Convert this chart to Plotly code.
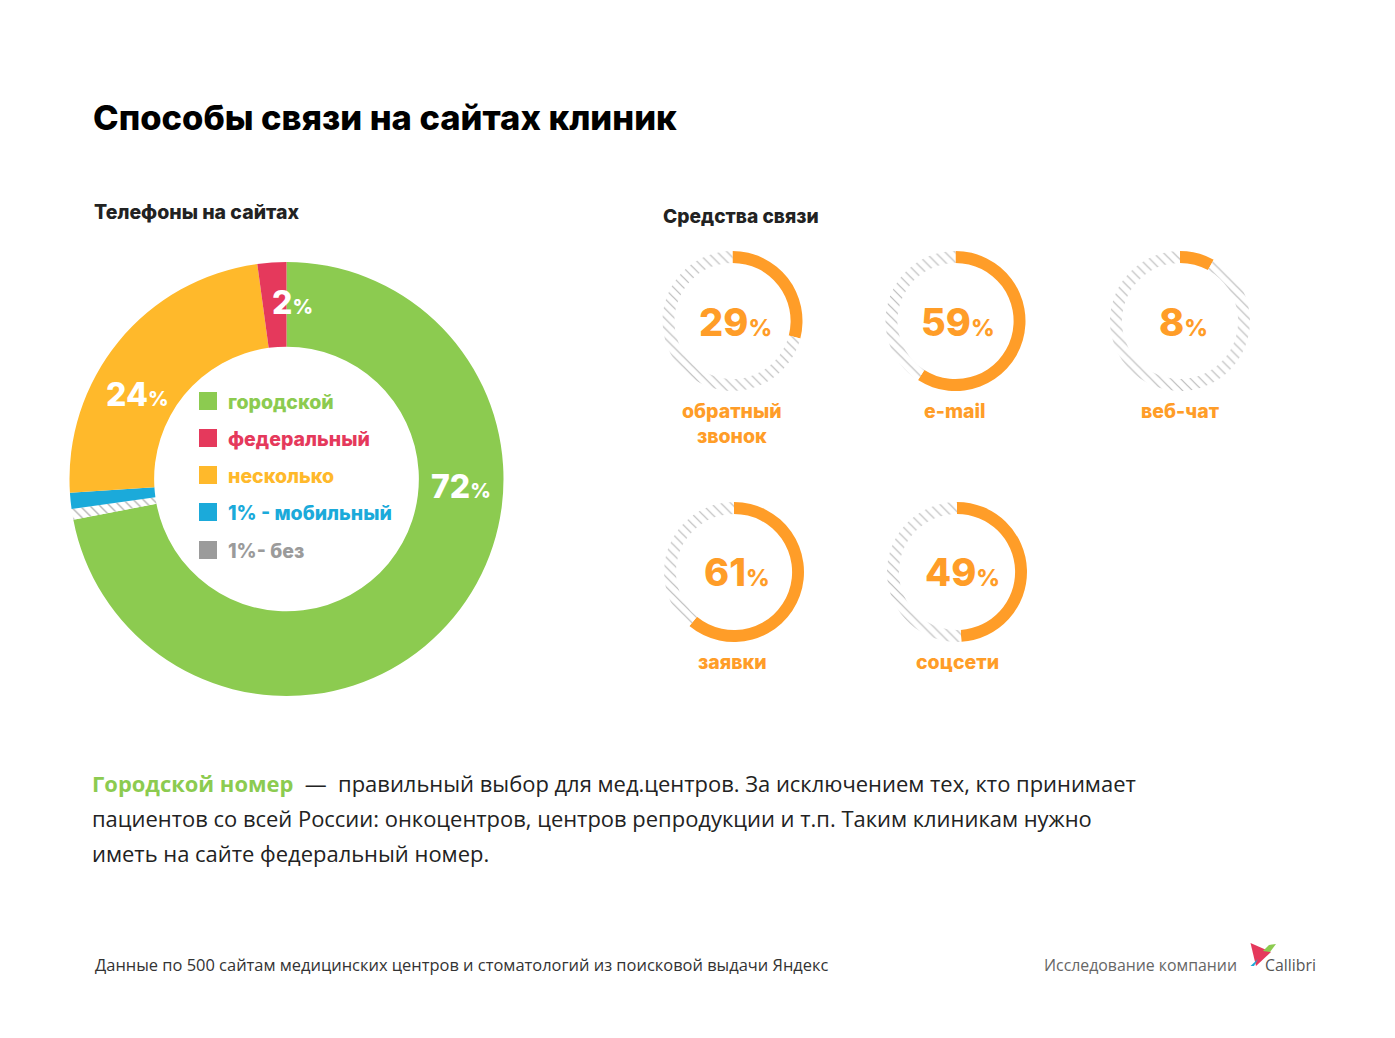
import plotly.graph_objects as go

W, H = 1395, 1038
ORANGE = "#FF9D28"
GREEN = "#8CCB50"; RED = "#E5395C"; YELLOW = "#FFB92B"; BLUE = "#1BAADA"; GREY = "#9B9B9B"

# Main donut, clockwise from 12 o'clock (slice sizes as measured on the picture)
phone_labels = ["городской", "без", "мобильный", "несколько", "федеральный"]
phone_values = [72, 0.8, 1.2, 23.85, 2.15]
phone_captions = [72, 24, 2]

# Small rings
channel_labels = ["обратный<br>звонок", "e-mail", "веб-чат", "заявки", "соцсети"]
channel_values = [29, 59, 8, 61, 49]

legend_labels = ["городской", "федеральный", "несколько", "1% - мобильный", "1%- без"]

HEAD = "Inter"
BODY = "Open Sans"

def px(x): return x / W
def py(y): return 1 - y / H

def dom(cx, cy, r):
    return dict(x=[px(cx - r), px(cx + r)], y=[py(cy + r), py(cy - r)])

fig = go.Figure()
fig.add_trace(go.Pie(
    labels=phone_labels, values=phone_values, sort=False, direction="clockwise", rotation=0,
    hole=0.61, domain=dom(286.5, 479, 217), textinfo="none", hoverinfo="label+percent", showlegend=False,
    marker=dict(colors=[GREEN, "white", BLUE, YELLOW, RED], line=dict(width=0),
                pattern=dict(shape=["", "\\", "", "", ""], fgcolor="#B4B4B4", bgcolor="white", size=7, solidity=0.2)),
))

ring_pos = [(732.5, 321), (955.5, 321), (1180, 321), (734, 572), (957, 572)]
for lab, v, (cx, cy) in zip(channel_labels, channel_values, ring_pos):
    fig.add_trace(go.Pie(
        labels=[lab, "остальные"], values=[v, 100 - v], sort=False, direction="clockwise", rotation=0,
        hole=0.83, domain=dom(cx, cy, 70), textinfo="none", hoverinfo="label+percent", showlegend=False,
        marker=dict(colors=[ORANGE, "white"], line=dict(width=0),
                    pattern=dict(shape=["", "\\"], fgcolor="#BBBBBB", bgcolor="white", size=7, solidity=0.17)),
    ))

ann = []
def text(x, y, s, size, color, font=HEAD, weight=700, anchor="left"):
    ann.append(dict(x=px(x), y=py(y), xref="paper", yref="paper", text=s, showarrow=False,
                    xanchor=anchor, yanchor="middle", align=anchor,
                    font=dict(family=font, size=size, color=color, weight=weight)))

def pct(v, small):
    return f"{v}<span style='font-size:{small}px'>%</span>"

text(91, 117, "Способы связи на сайтах клиник", 34.5, "black", weight=800)
text(92, 212, "Телефоны на сайтах", 19.5, "#222222", weight=800)
text(661, 216, "Средства связи", 19.2, "#222222", weight=800)

text(461, 486, pct(phone_captions[0], 20), 32, "white", weight=800, anchor="center")
text(137, 394, pct(phone_captions[1], 20), 32, "white", weight=800, anchor="center")
text(292, 302, pct(phone_captions[2], 20), 32, "white", weight=800, anchor="center")

shapes = []
leg_y = [401, 438, 475, 512, 550]
leg_c = [GREEN, RED, YELLOW, BLUE, GREY]
for lab, y, c in zip(legend_labels, leg_y, leg_c):
    shapes.append(dict(type="rect", xref="paper", yref="paper", x0=px(199), x1=px(217), y0=py(y + 9), y1=py(y - 9),
                       fillcolor=c, line=dict(width=0)))
    text(226, y + 0.5, lab, 19.5, c, weight=800)

ring_lab = [(732, 423), (955, 411), (1180, 411), (732, 662), (958, 662)]
big_c = [(735, 322), (958, 322), (1183, 322), (737, 572), (962, 572)]
for lab, v, (lx, ly), (bx, by) in zip(channel_labels, channel_values, ring_lab, big_c):
    text(bx, by, pct(v, 23), 38, ORANGE, weight=800, anchor="center")
    text(lx, ly, lab, 19.5, ORANGE, weight=800, anchor="center")

text(90, 783, f"<span style='color:{GREEN}'><b>Городской номер</b></span>&nbsp; —&nbsp; правильный выбор для мед.центров. За исключением тех, кто принимает", 21.95, "#222222", BODY, 400)
text(90, 818, "пациентов со всей России: онкоцентров, центров репродукции и т.п. Таким клиникам нужно", 21.95, "#222222", BODY, 400)
text(90, 853, "иметь на сайте федеральный номер.", 21.95, "#222222", BODY, 400)
text(93, 964, "Данные по 500 сайтам медицинских центров и стоматологий из поисковой выдачи Яндекс", 16.45, "#333333", BODY, 400)
text(1042, 965, "Исследование компании", 15.85, "#666666", BODY, 400)
text(1263, 965, "Callibri", 15.85, "#555555", BODY, 400)

def poly(points, color):
    d = "M " + " L ".join(f"{px(x):.5f},{py(y):.5f}" for x, y in points) + " Z"
    shapes.append(dict(type="path", xref="paper", yref="paper", path=d, fillcolor=color, line=dict(width=0)))

poly([(1250.5, 943), (1271, 952), (1256, 966)], RED)
poly([(1263, 951), (1269, 945), (1276, 944), (1270, 952)], GREEN)
poly([(1250.5, 966), (1258, 959), (1254, 966)], BLUE)

fig.update_layout(width=W, height=H, margin=dict(l=0, r=0, t=0, b=0), autosize=False,
                  paper_bgcolor="white", annotations=ann, shapes=shapes, showlegend=False)
fig.write_html("out.html", config={"displayModeBar": False}, post_script="document.body.style.margin='0';")
